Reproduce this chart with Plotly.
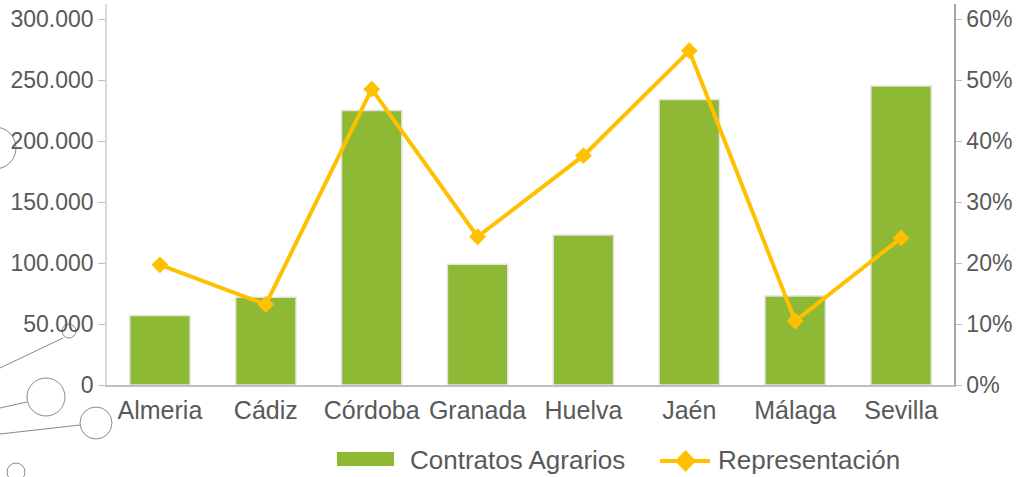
import plotly.graph_objects as go

provincias = ["Almeria", "Cádiz", "Córdoba", "Granada", "Huelva", "Jaén", "Málaga", "Sevilla"]
contratos = [57000, 72000, 225000, 99000, 123000, 234000, 73000, 245000]
representacion = [0.197, 0.132, 0.485, 0.243, 0.376, 0.548, 0.105, 0.241]

left_ticks = [0, 50000, 100000, 150000, 200000, 250000, 300000]
right_ticks = [0, 0.1, 0.2, 0.3, 0.4, 0.5, 0.6]

GREEN = "#8DB935"
GOLD = "#FFC000"
TXT = "#595959"
DECO = "#6b6b6b"

W, H = 1033, 477
L, R, T, B = 107, 79, 4, 92
pw, ph = W - L - R, H - T - B


def px(x):
    return (x - L) / pw


def py(y):
    return (H - B - y) / ph


# 300000 lands on page y=19, baseline at page y=385
top_left = 300000 * ph / (385 - 19)
top_right = 0.6 * ph / (385 - 19)

fig = go.Figure()
fig.add_trace(go.Bar(
    x=provincias, y=contratos, name="Contratos Agrarios",
    marker=dict(color=GREEN, line=dict(color="#E3E3E3", width=1.5)),
    yaxis="y", showlegend=False,
))
fig.add_trace(go.Scatter(
    x=provincias, y=representacion, name="Representación",
    mode="lines+markers",
    line=dict(color=GOLD, width=4),
    marker=dict(symbol="diamond", size=13, color=GOLD),
    yaxis="y2", showlegend=False,
))

shapes = []
# decorative background circles and connectors
for cx, cy, r in [(-5, 148, 21), (69, 331, 7), (46, 397, 19), (96, 423, 16), (16, 472, 9)]:
    shapes.append(dict(type="circle", xref="paper", yref="paper",
                       x0=px(cx - r), x1=px(cx + r), y0=py(cy + r), y1=py(cy - r),
                       line=dict(color=DECO, width=0.8), layer="below"))
for x0, y0, x1, y1 in [(0, 368, 63, 338), (0, 408, 27, 402), (0, 434, 80, 425)]:
    shapes.append(dict(type="line", xref="paper", yref="paper",
                       x0=px(x0), y0=py(y0), x1=px(x1), y1=py(y1),
                       line=dict(color=DECO, width=0.8), layer="below"))

# legend drawn as symbols + text
LEG_Y = 460
shapes.append(dict(type="rect", xref="paper", yref="paper",
                   x0=px(337), x1=px(394), y0=py(466), y1=py(452),
                   fillcolor=GREEN, line=dict(width=0)))
shapes.append(dict(type="line", xref="paper", yref="paper",
                   x0=px(660), x1=px(710), y0=py(LEG_Y + 1), y1=py(LEG_Y + 1),
                   line=dict(color=GOLD, width=4)))
dcx, dcy, dhx, dhy = 685.5, 461, 10.5, 11
shapes.append(dict(type="path", xref="paper", yref="paper",
                   path=(f"M{px(dcx - dhx)},{py(dcy)} L{px(dcx)},{py(dcy - dhy)} "
                         f"L{px(dcx + dhx)},{py(dcy)} L{px(dcx)},{py(dcy + dhy)} Z"),
                   fillcolor=GOLD, line=dict(width=0)))

annotations = [
    dict(text="Contratos Agrarios", xref="paper", yref="paper", x=px(408), y=py(LEG_Y),
         xanchor="left", yanchor="middle", showarrow=False,
         font=dict(size=26, color=TXT)),
    dict(text="Representación", xref="paper", yref="paper", x=px(716), y=py(LEG_Y),
         xanchor="left", yanchor="middle", showarrow=False,
         font=dict(size=26, color=TXT)),
]

fig.update_layout(
    width=W, height=H,
    margin=dict(l=L, r=R, t=T, b=B, pad=0, autoexpand=False),
    paper_bgcolor="white", plot_bgcolor="white",
    separators=",.",
    font=dict(family="Liberation Sans, Arial, sans-serif", size=22, color=TXT),
    bargap=0.43,
    showlegend=False,
    xaxis=dict(showline=True, linecolor="#BFBFBF", linewidth=2, ticks="", showgrid=False,
               tickfont=dict(size=25, color=TXT), ticklabelstandoff=2),
    yaxis=dict(range=[0, top_left], tickvals=left_ticks, tickformat=",d", showgrid=False,
               showline=True, linecolor="#D9D9D9", linewidth=1.5, ticks="outside",
               ticklen=7, tickcolor="#BFBFBF", zeroline=False,
               ticklabeloverflow="allow",
               tickfont=dict(size=23, color=TXT)),
    yaxis2=dict(range=[0, top_right], tickvals=right_ticks, tickformat=".0%", overlaying="y",
                side="right", showgrid=False, showline=True, linecolor="#A6A6A6",
                linewidth=1.5, ticks="outside", ticklen=6, tickcolor="#BFBFBF",
                zeroline=False, ticklabeloverflow="allow",
                tickfont=dict(size=23, color=TXT)),
    shapes=shapes,
    annotations=annotations,
)

fig.write_html("out.html",
               config={"displayModeBar": False},
               post_script="document.body.style.margin='0';document.body.style.overflow='hidden';")
